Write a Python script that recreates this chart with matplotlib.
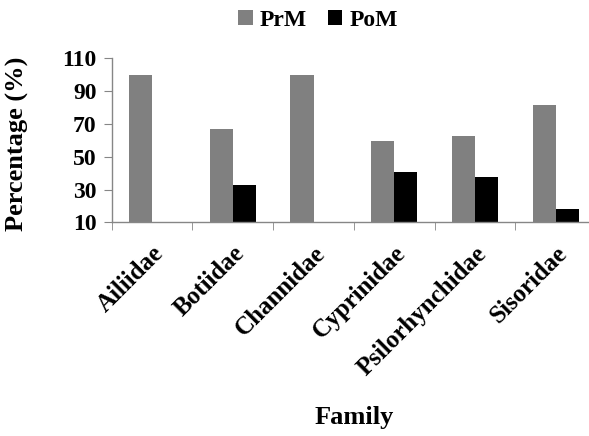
import matplotlib
matplotlib.use("Agg")
import matplotlib.pyplot as plt
import numpy as np

families = ["Ailiidae", "Botiidae", "Channidae", "Cyprinidae", "Psilorhynchidae", "Sisoridae"]
prm = [100, 67, 100, 59.5, 62.5, 81.8]
pom = [0, 33, 0, 40.5, 37.5, 18.2]
yticks = [10, 30, 50, 70, 90, 110]

plt.rcParams['font.family'] = ['Liberation Serif', 'DejaVu Serif']
plt.rcParams['font.weight'] = 'bold'

fig = plt.figure(figsize=(5.89, 4.36), dpi=100)
ax = fig.add_axes([0.1896, 0.490, 1.012 - 0.1896, 0.866 - 0.490])

x = np.arange(len(families))
w = 0.285
ax.bar(x - w / 2, prm, w, bottom=0, color='#808080', label='PrM', zorder=2)
ax.bar(x + w / 2, pom, w, bottom=0, color='#000000', label='PoM', zorder=2)

ax.set_ylim(10, 110)
ax.set_xlim(-0.5, len(families) - 0.5)
ax.set_yticks(yticks)
ax.set_yticklabels([str(v) for v in yticks], fontsize=17, fontweight='bold')
ax.set_xticks(x)
ax.set_xticklabels(families, rotation=45, ha='right', rotation_mode='anchor',
                   fontsize=18, fontweight='bold')
ax.set_xticks(np.arange(len(families) + 1) - 0.5, minor=True)
ax.tick_params(axis='x', which='major', length=0, pad=14)
ax.tick_params(axis='x', which='minor', length=6, color='#868686', direction='out')
ax.tick_params(axis='y', length=6, color='#868686', direction='out', pad=5)

for s in ['top', 'right']:
    ax.spines[s].set_visible(False)
for s in ['left', 'bottom']:
    ax.spines[s].set_color('#868686')
    ax.spines[s].set_linewidth(1)

ax.set_ylabel('Percentage (%)', fontsize=19, fontweight='bold')
ax.yaxis.set_label_coords((29 - 112) / 484, 0.48)
fig.text(354 / 589, 1 - 417 / 436, 'Family', ha='center', va='center',
         fontsize=19, fontweight='bold')

leg = fig.legend(loc='center', bbox_to_anchor=(318 / 589, 1 - 20 / 436), ncol=2,
                 frameon=False, prop={'size': 17, 'weight': 'bold'},
                 handlelength=0.6, handleheight=0.6, handletextpad=0.3,
                 columnspacing=0.9, borderpad=0, borderaxespad=0)

fig.savefig('out.png', dpi=100)
